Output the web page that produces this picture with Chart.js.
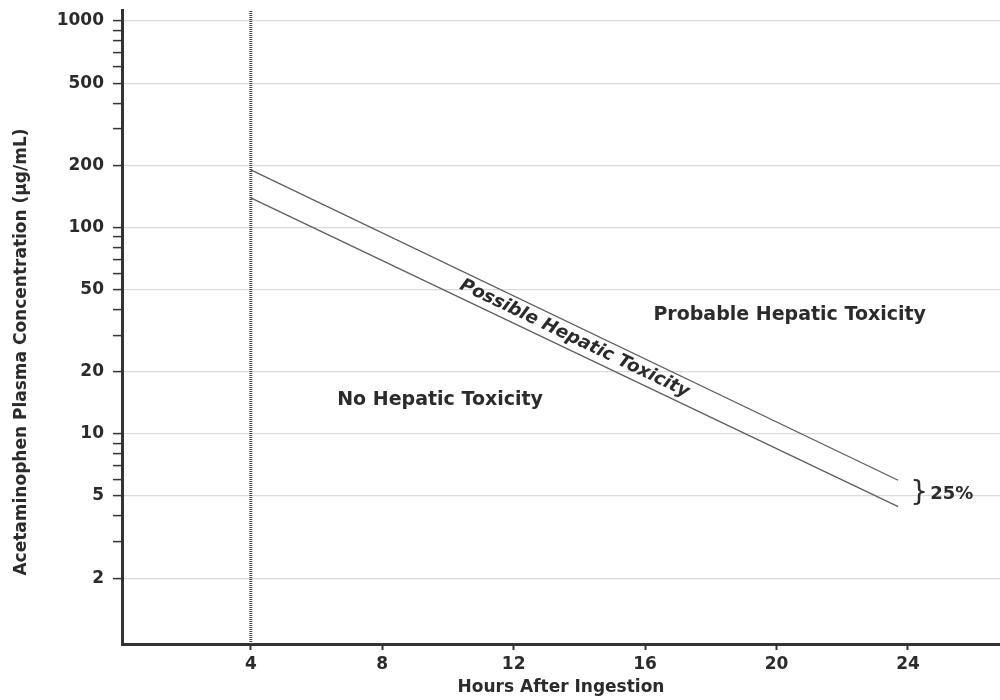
<!DOCTYPE html>
<html><head><meta charset="utf-8">
<script src="https://cdn.jsdelivr.net/npm/chart.js@4.4.0/dist/chart.umd.min.js"></script>
<style>html,body{margin:0;padding:0;background:#fff}#wrap{width:1000px;height:700px}</style>
</head><body><div id="wrap"><canvas id="c" width="1000" height="700"></canvas></div>
<script>
// ---- data ----
const hours = [4, 23.7];
const upperLine = [190, 5.96];   // µg/mL
const lowerLine = [139, 4.44];   // µg/mL (25% lower)
const markerHours = [4, 4];
const markerConc = [0.96, 1130];
const xTickValues = [4, 8, 12, 16, 20, 24];
const yLabelValues = [2, 5, 10, 20, 50, 100, 200, 500, 1000];
const yMinorValues = [3, 4, 6, 7, 8, 9, 30, 40, 60, 70, 80, 90, 300, 400, 600, 700, 800, 900];
const regionLabels = ['Probable Hepatic Toxicity', 'No Hepatic Toxicity'];
const regionHours = [20.4, 9.76];
const regionConc = [37.5, 14.6];
const bandLabel = 'Possible Hepatic Toxicity';
const bandLabelHour = 13.85;
const gapLabel = '25%';
const yTitle = 'Acetaminophen Plasma Concentration (µg/mL)';
const xTitle = 'Hours After Ingestion';

const FONT = "'DejaVu Sans', 'Open Sans', sans-serif";
const TXT = '#2b2b2b';

const toPts = (xs, ys) => xs.map((x, i) => ({x: x, y: ys[i]}));

const notesPlugin = {
  id: 'notes',
  afterDatasetsDraw(chart) {
    const ctx = chart.ctx, xs = chart.scales.x, ys = chart.scales.y;
    ctx.save();
    ctx.fillStyle = TXT;
    ctx.textAlign = 'center';
    ctx.textBaseline = 'middle';
    ctx.font = 'bold 19px ' + FONT;
    regionLabels.forEach((t, i) => {
      ctx.fillText(t, xs.getPixelForValue(regionHours[i]), ys.getPixelForValue(regionConc[i]));
    });
    // label between the two lines, rotated along them
    const logInterp = (arr, h) => {
      const f = (h - hours[0]) / (hours[1] - hours[0]);
      return Math.exp(Math.log(arr[0]) + f * (Math.log(arr[1]) - Math.log(arr[0])));
    };
    const mid = Math.sqrt(logInterp(upperLine, bandLabelHour) * logInterp(lowerLine, bandLabelHour));
    const px0 = xs.getPixelForValue(hours[0]), px1 = xs.getPixelForValue(hours[1]);
    const pyU0 = ys.getPixelForValue(upperLine[0]), pyU1 = ys.getPixelForValue(upperLine[1]);
    const pyL0 = ys.getPixelForValue(lowerLine[0]), pyL1 = ys.getPixelForValue(lowerLine[1]);
    const ang = Math.atan2(((pyU1 - pyU0) + (pyL1 - pyL0)) / 2, px1 - px0);
    ctx.save();
    ctx.translate(xs.getPixelForValue(bandLabelHour), ys.getPixelForValue(mid));
    ctx.rotate(ang);
    ctx.font = 'italic bold 18px ' + FONT;
    ctx.fillText(bandLabel, 0, 0);
    ctx.restore();
    // brace + 25%
    const endMid = Math.sqrt(upperLine[1] * lowerLine[1]);
    const bx = xs.getPixelForValue(hours[1]) + 12;
    const by = ys.getPixelForValue(endMid);
    ctx.textAlign = 'left';
    ctx.font = '28px ' + FONT;
    ctx.fillText('}', bx, by);
    ctx.font = 'bold 18px ' + FONT;
    ctx.fillText(gapLabel, bx + 20, by + 1);
    // y axis title
    ctx.save();
    ctx.translate(22, ys.top + (ys.bottom - ys.top) / 2 + 25);
    ctx.rotate(-Math.PI / 2);
    ctx.textAlign = 'center';
    ctx.font = 'bold 17px ' + FONT;
    ctx.fillText(yTitle, 0, 0);
    ctx.restore();
    ctx.restore();
  }
};

new Chart(document.getElementById('c'), {
  type: 'line',
  data: {
    datasets: [
      {data: toPts(hours, upperLine), borderColor: '#5e5e5e', borderWidth: 1.3, pointRadius: 0},
      {data: toPts(hours, lowerLine), borderColor: '#5e5e5e', borderWidth: 1.3, pointRadius: 0},
      {data: toPts(markerHours, markerConc), borderColor: '#444', borderWidth: 3, borderDash: [1, 1], pointRadius: 0}
    ]
  },
  options: {
    responsive: false,
    animation: false,
    layout: {padding: {top: 10, right: 0, left: 0, bottom: 0}},
    plugins: {legend: {display: false}, tooltip: {enabled: false}},
    scales: {
      x: {
        type: 'linear', min: 0.08, max: 26.8,
        afterBuildTicks: s => { s.ticks = xTickValues.map(v => ({value: v})); },
        afterFit: s => { s.height = 56; s.paddingLeft = 0; s.paddingRight = 0; },
        grid: {drawOnChartArea: false, drawTicks: true, tickLength: 6, tickColor: '#333', tickWidth: 2},
        border: {color: '#333', width: 3},
        ticks: {color: TXT, font: {family: FONT, size: 17, weight: 'bold'}, padding: 4, maxRotation: 0, autoSkip: false},
        title: {display: true, text: xTitle, color: TXT, font: {family: FONT, size: 17, weight: 'bold'}, padding: {top: 0, bottom: 2}}
      },
      y: {
        type: 'logarithmic', min: 0.96, max: 1130,
        afterBuildTicks: s => { s.ticks = yLabelValues.concat(yMinorValues).sort((a, b) => a - b).map(v => ({value: v})); },
        afterFit: s => { s.width = 122; s.paddingTop = 0; s.paddingBottom = 0; },
        grid: {
          color: c => (c.tick && yLabelValues.includes(c.tick.value)) ? '#dadada' : 'rgba(0,0,0,0)',
          lineWidth: 1.2, tickColor: '#333', tickLength: 9, tickWidth: 1.5
        },
        border: {color: '#333', width: 3},
        ticks: {
          autoSkip: false, color: TXT, padding: 9,
          font: {family: FONT, size: 17, weight: 'bold'},
          callback: v => yLabelValues.includes(v) ? String(v) : ''
        }
      }
    }
  },
  plugins: [notesPlugin]
});
</script></body></html>
